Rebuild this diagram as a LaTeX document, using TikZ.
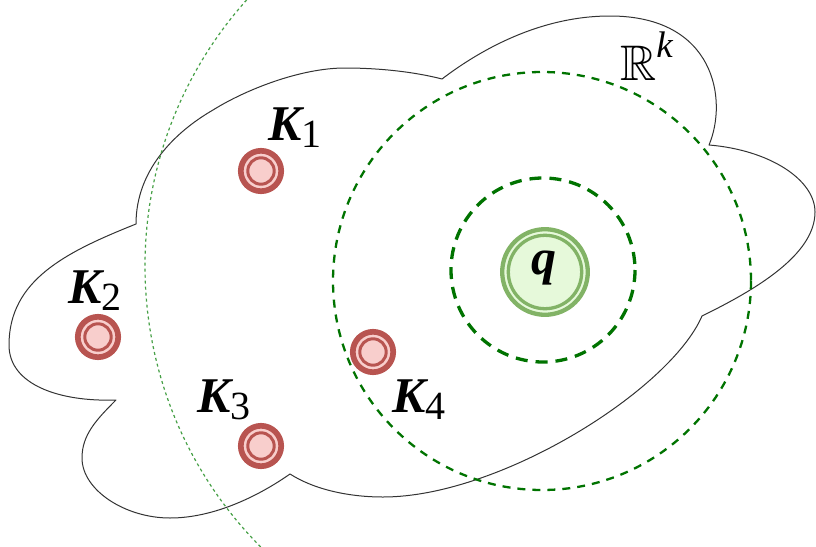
\documentclass[tikz,border=0pt]{standalone}
\usepackage{amssymb}
\usepackage{graphicx}
\usepackage{fontspec}
\newfontfamily\tms{Liberation Serif}
\definecolor{kred}{RGB}{184,84,80}
\definecolor{kpink}{RGB}{248,206,204}
\definecolor{qgreen}{RGB}{130,179,102}
\definecolor{qfill}{RGB}{230,249,218}
\definecolor{dgreen}{RGB}{0,115,0}
\definecolor{lgreen}{RGB}{70,160,70}
\begin{document}
\begin{tikzpicture}[x=1pt,y=-1pt,
  outline/.style={line width=1pt, draw=black!80, line join=round},
  kout/.style={circle, draw=kred, fill=kpink, line width=5.7pt, minimum size=40.4pt, inner sep=0pt},
  kin/.style={circle, draw=kred, line width=3pt, minimum size=26.4pt, inner sep=0pt},
  qout/.style={circle, draw=qgreen, fill=qfill, line width=4.3pt, minimum size=85.6pt, inner sep=0pt},
  qin/.style={circle, draw=qgreen, line width=3.3pt, minimum size=73.4pt, inner sep=0pt},
  klab/.style={anchor=base west, inner sep=0pt, font=\tms\fontsize{50}{50}\selectfont\bfseries\itshape},
  qlab/.style={anchor=center, inner sep=0pt, font=\tms\fontsize{50}{50}\selectfont\bfseries\itshape},
  innerring/.style={draw=dgreen, line width=3.3pt, dash pattern=on 12pt off 8pt},
  outerring/.style={draw=dgreen, line width=2.3pt, dash pattern=on 8pt off 7pt},
  farring/.style={draw=lgreen, line width=1.2pt, dash pattern=on 3pt off 3pt}
]
\useasboundingbox (0,0) rectangle (816,546);
\begin{scope}
\clip (0,0) rectangle (816,546);
% cloud outline
\draw[outline] (136,224) .. controls (66,252) and (9,280) .. (9,345)
  .. controls (9,385) and (60,402) .. (116,400)
  .. controls (96,420) and (82,435) .. (82,458)
  .. controls (82,490) and (125,518) .. (170,518)
  .. controls (215,518) and (260,495) .. (290,474)
  .. controls (315,490) and (350,497) .. (383,497)
  .. controls (500,497) and (670,390) .. (702,316)
  .. controls (755,290) and (815,255) .. (815,212)
  .. controls (815,180) and (770,150) .. (709,145)
  .. controls (728,100) and (715,16) .. (610,16)
  .. controls (540,16) and (480,50) .. (442,79)
  .. controls (415,72) and (380,68) .. (345,68)
  .. controls (300,68) and (245,90) .. (213,110)
  .. controls (175,132) and (136,170) .. (136,224) -- cycle;
% rings around q
\draw[farring] (544,266) circle[radius=399];
\draw[outerring] (542,281) circle[radius=209];
\draw[innerring] (543,270) circle[radius=92];
\end{scope}
% q node
\node[qout] (qo) at (545,272) {};
\node[qin] (qi) at (qo) {};
\node[qlab] (q) at (544,268) {q};
% K nodes
\node[kout] (k1) at (261,171) {};
\node[kin] (k1i) at (k1) {};
\node[kout] (k2) at (98,337) {};
\node[kin] (k2i) at (k2) {};
\node[kout] (k3) at (261,446) {};
\node[kin] (k3i) at (k3) {};
\node[kout] (k4) at (373,352) {};
\node[kin] (k4i) at (k4) {};
% labels
\node[klab] (l1) at (268,140) {K\raisebox{-7pt}{\fontsize{40}{40}\selectfont\mdseries\upshape 1}};
\node[klab] (l2) at (68,303) {K\raisebox{-7pt}{\fontsize{40}{40}\selectfont\mdseries\upshape 2}};
\node[klab] (l3) at (197,412) {K\raisebox{-7pt}{\fontsize{40}{40}\selectfont\mdseries\upshape 3}};
\node[klab] (l4) at (392,412) {K\raisebox{-7pt}{\fontsize{40}{40}\selectfont\mdseries\upshape 4}};
\node[anchor=base west, inner sep=0pt] (rk) at (620,80) {\scalebox{5}{$\mathbb{R}$}\raisebox{23pt}{\tms\itshape\fontsize{37}{37}\selectfont k}};
\end{tikzpicture}
\end{document}
